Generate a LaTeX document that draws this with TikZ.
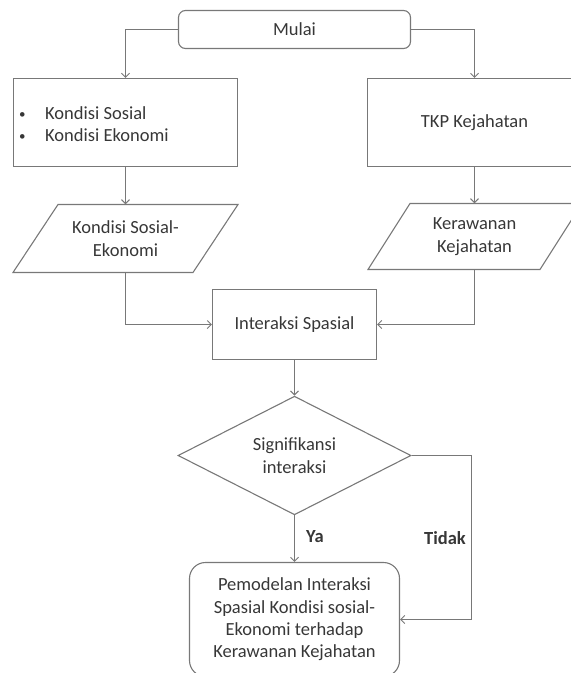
\documentclass[tikz,border=0pt]{standalone}
\usepackage{fontspec}
\setmainfont{Carlito}
\usetikzlibrary{arrows.meta,shapes.geometric}
\definecolor{linegray}{RGB}{120,120,120}
\definecolor{txt}{RGB}{55,55,55}
\newcommand{\smallbul}{\makebox[26pt][l]{\raisebox{1pt}{\fontsize{13}{13}\selectfont •}}}
\begin{document}
\begin{tikzpicture}[x=1pt,y=-1pt,
  font=\fontsize{18.5}{22.3}\selectfont,
  line/.style={draw=linegray,line width=1.1pt},
  arr/.style={line,-{Straight Barb[length=4pt,width=8pt,line width=1pt]}},
  boxnode/.style={line,rectangle,inner sep=0pt,text=txt,align=center},
  plain/.style={inner sep=0pt,text=txt,align=center},
  lbl/.style={inner sep=0pt,text=txt,font=\fontsize{18.5}{22.3}\selectfont\bfseries}]
\useasboundingbox (0,0) rectangle (571,673);

% start
\node[boxnode,rounded corners=7pt,minimum width=232pt,minimum height=38pt] (mulai) at (294.5,29.5) {Mulai};

% top boxes
\node[boxnode,minimum width=224pt,minimum height=88pt] (kb) at (125.5,122.5) {};
\node[plain,anchor=west,align=left] (kbt) at (19,124) {\smallbul Kondisi Sosial\\\smallbul Kondisi Ekonomi};
\node[boxnode,minimum width=214pt,minimum height=88pt] (tkp) at (474.5,122.5) {TKP Kejahatan};

% parallelograms (data)
\draw[line] (58,204.5) -- (238,204.5) -- (193,272.5) -- (13,272.5) -- cycle;
\node[plain,minimum width=130pt,minimum height=68pt] (ksek) at (125.5,238.5) {Kondisi Sosial-\\Ekonomi};
\draw[line] (410,203.5) -- (582,203.5) -- (540,269.5) -- (368,269.5) -- cycle;
\node[plain,minimum width=130pt,minimum height=66pt] (kera) at (474.5,236.5) {Kerawanan\\Kejahatan};

% interaction
\node[boxnode,minimum width=164pt,minimum height=70pt] (inter) at (294.5,324.5) {Interaksi Spasial};

% decision
\node[line,diamond,inner sep=0pt,minimum width=233pt,minimum height=103pt,text=txt,align=center] (sig) at (294.5,455.5) {Signifikansi\\interaksi};

% result
\node[boxnode,rounded corners=16pt,minimum width=210pt,minimum height=114pt] (model) at (294.5,619.5) {Pemodelan Interaksi\\Spasial Kondisi sosial-\\Ekonomi terhadap\\Kerawanan Kejahatan};

% connectors
\draw[arr] (mulai.west) -| (kb.north);
\draw[arr] (mulai.east) -| (tkp.north);
\draw[arr] (kb.south) -- (ksek.north);
\draw[arr] (tkp.south) -- (kera.north);
\draw[arr] (ksek.south) |- (inter.west);
\draw[arr] (kera.south) |- (inter.east);
\draw[arr] (inter.south) -- (sig.north);
\draw[arr] (sig.south) -- (model.north);
\coordinate (tturn) at (471.5,455.5);
\draw[arr] (sig.east) -- (tturn) |- (model.east);

% labels
\node[lbl,anchor=west] (ya) at (306,537) {Ya};
\node[lbl,anchor=east] (tidak) at (466,538) {Tidak};
\end{tikzpicture}
\end{document}
